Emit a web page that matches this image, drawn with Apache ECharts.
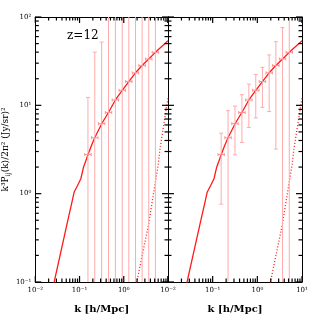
<!DOCTYPE html>
<html><head><meta charset="utf-8">
<script src="https://cdn.jsdelivr.net/npm/echarts@6/dist/echarts.min.js"></script>
<style>html,body{margin:0;padding:0;background:#fff}#c{width:319px;height:319px}</style>
</head><body><div id="c"></div><script>
// Model curve (solid)
const curveK = [0.0251, 0.0556, 0.0662, 0.0757, 0.0902, 0.107, 0.123, 0.1435, 0.1556, 0.185, 0.219, 0.324, 0.457, 0.646, 0.923, 1.30, 1.82, 2.60, 3.67, 5.19, 10];
const curveY = [0.087, 0.524, 0.773, 1.045, 1.239, 1.476, 1.995, 2.47, 2.77, 3.49, 4.27, 6.31, 8.41, 11.5, 14.8, 18.6, 23.2, 28.2, 33.5, 39.8, 53.7];
// Shot-noise curve (dotted)
const shotK = [1.905, 1.98, 3.61, 6.04, 6.59, 10];
const shotY = [0.091, 0.102, 0.44, 2.17, 3.21, 12.2];
// Binned points
const binK = [0.155, 0.221, 0.316, 0.452, 0.646, 0.923, 1.30, 1.84, 2.60, 3.67, 5.19];
const binY = [2.77, 4.3, 6.2, 8.3, 11.5, 14.8, 18.6, 23.3, 28.2, 33.5, 39.8];
// Error bars, left panel
const leftLo = [0.05, 0.05, 0.05, 0.05, 0.05, 0.05, 0.05, 0.05, 0.05, 0.05, 0.05];
const leftHi = [12.3, 40, 52, 200, 200, 200, 200, 200, 200, 200, 200];
// Error bars, right panel
const rightLo = [0.76, 0.05, 2.75, 3.8, 5.6, 7.2, 9.5, 8.5, 3.2, 0.05, 0.05];
const rightHi = [4.84, 8.7, 9.8, 13.2, 17.4, 22.4, 26.9, 37.2, 52.5, 75.9, 200];
// Major and minor tick values
const xMajor = [0.01, 0.1, 1, 10];
const yMajor = [0.1, 1, 10, 100];
const xMinor = [0.02,0.03,0.04,0.05,0.06,0.07,0.08,0.09, 0.2,0.3,0.4,0.5,0.6,0.7,0.8,0.9, 2,3,4,5,6,7,8,9];
const yMinor = [0.2,0.3,0.4,0.5,0.6,0.7,0.8,0.9, 2,3,4,5,6,7,8,9, 20,30,40,50,60,70,80,90];
const panelLabel = 'z=12';
const xName = 'k [h/Mpc]';
const yName = 'k³P{sub|ij}(k)/2π² (Jy/sr)²';

const SUP = {'-':'⁻','0':'⁰','1':'¹','2':'²','3':'³'};
function pow10Label(v){
  const e = Math.round(Math.log10(v));
  return '10' + String(e).split('').map(ch => SUP[ch]).join('');
}
const FONT = 'DejaVu Serif';
const RED = '#ff1a1a', PINK = '#ffaaaa';
const XMIN=0.01, XMAX=10, YMIN=0.1, YMAX=100;

function zip(a,b){ return a.map((v,i)=>[v,b[i]]); }

// rows: [x, y, lo, hi, kind, len]; kind 0 = bin with error bar, 1 = x tick, 2 = y tick
const MAJ = 6, MIN = 3.5;
function buildRows(lo,hi){
  const rows = binK.map((k,i)=>[k,binY[i],lo[i],hi[i],0,0]);
  xMajor.forEach(v=>rows.push([v,1,0,0,1,MAJ]));
  xMinor.forEach(v=>rows.push([v,1,0,0,1,MIN]));
  yMajor.forEach(v=>rows.push([1,v,0,0,2,MAJ]));
  yMinor.forEach(v=>rows.push([1,v,0,0,2,MIN]));
  return rows;
}
function drawItem(params, api){
  const kind = api.value(4), L = api.value(5);
  const blk = {stroke:'#000', lineWidth:1.2};
  if (kind === 1) {
    const v=api.value(0);
    const b=api.coord([v,YMIN]), t=api.coord([v,YMAX]);
    return {type:'group', children:[
      {type:'line', shape:{x1:b[0],y1:b[1],x2:b[0],y2:b[1]-L}, style:blk},
      {type:'line', shape:{x1:t[0],y1:t[1],x2:t[0],y2:t[1]+L}, style:blk}
    ]};
  }
  if (kind === 2) {
    const v=api.value(1);
    const l=api.coord([XMIN,v]), r=api.coord([XMAX,v]);
    return {type:'group', children:[
      {type:'line', shape:{x1:l[0],y1:l[1],x2:l[0]+L,y2:l[1]}, style:blk},
      {type:'line', shape:{x1:r[0],y1:r[1],x2:r[0]-L,y2:r[1]}, style:blk}
    ]};
  }
  const k=api.value(0), y=api.value(1), lo=api.value(2), hi=api.value(3);
  const p=api.coord([k,y]), pl=api.coord([k,lo]), ph=api.coord([k,hi]);
  const rect = params.coordSys;
  const top = Math.max(ph[1], rect.y), bot = Math.min(pl[1], rect.y+rect.height);
  const st={stroke:PINK, lineWidth:1};
  const cw=2, hw=3.2, hc=1.5;
  const st2={stroke:'#ff9090',lineWidth:1};
  const ch = [
    {type:'line', shape:{x1:p[0],y1:bot,x2:p[0],y2:top}, style:st},
    {type:'line', shape:{x1:p[0]-hw,y1:p[1],x2:p[0]+hw,y2:p[1]}, style:st2},
    {type:'line', shape:{x1:p[0]-hw,y1:p[1]-hc,x2:p[0]-hw,y2:p[1]+hc}, style:st2},
    {type:'line', shape:{x1:p[0]+hw,y1:p[1]-hc,x2:p[0]+hw,y2:p[1]+hc}, style:st2}
  ];
  if (ph[1] >= rect.y) ch.push({type:'line', shape:{x1:p[0]-cw,y1:ph[1],x2:p[0]+cw,y2:ph[1]}, style:st});
  if (pl[1] <= rect.y+rect.height) ch.push({type:'line', shape:{x1:p[0]-cw,y1:pl[1],x2:p[0]+cw,y2:pl[1]}, style:st});
  return {type:'group', children:ch};
}

function xAx(grid, pos, labels, hideLast){
  return {type:'log', gridIndex:grid, position:pos, min:XMIN, max:XMAX, logBase:10,
    axisLine:{show:true, lineStyle:{color:'#000', width:1}},
    axisTick:{show:false}, minorTick:{show:false}, splitLine:{show:false}, minorSplitLine:{show:false},
    axisLabel:{show:labels, margin:5, fontFamily:FONT, fontSize:7, color:'#000',
      formatter:v => (hideLast && v>=9.99) ? '' : pow10Label(v)},
    name: labels ? xName : '', nameLocation:'middle', nameGap:22,
    nameTextStyle:{fontFamily:FONT, fontSize:10, color:'#000', fontWeight:'bold'}
  };
}
function yAx(grid, pos, labels){
  return {type:'log', gridIndex:grid, position:pos, min:YMIN, max:YMAX, logBase:10,
    axisLine:{show:true, lineStyle:{color:'#000', width:1}},
    axisTick:{show:false}, minorTick:{show:false}, splitLine:{show:false}, minorSplitLine:{show:false},
    axisLabel:{show:labels, margin:4, fontFamily:FONT, fontSize:7, color:'#000', formatter:pow10Label},
    name: labels ? yName : '', nameLocation:'middle', nameGap:21,
    nameTextStyle:{fontFamily:FONT, fontSize:9, color:'#000',
      rich:{sub:{fontFamily:FONT, fontSize:6.5, color:'#000', padding:[6,0,0,0]}}}
  };
}

const chart = echarts.init(document.getElementById('c'), null, {renderer:'canvas'});
const series = [];
[[0,leftLo,leftHi],[1,rightLo,rightHi]].forEach(([g,lo,hi])=>{
  const xi = g*2, yi = g*2;
  series.push({type:'custom', xAxisIndex:xi, yAxisIndex:yi, clip:false, z:4,
    renderItem:drawItem, data:buildRows(lo,hi), silent:true});
  series.push({type:'line', xAxisIndex:xi, yAxisIndex:yi, z:3, showSymbol:false, clip:true,
    data:zip(curveK,curveY), lineStyle:{color:RED, width:1.3}, silent:true});
  series.push({type:'line', xAxisIndex:xi, yAxisIndex:yi, z:3, showSymbol:false, clip:true,
    data:zip(shotK,shotY), lineStyle:{color:RED, width:1.3, type:[1,2]}, silent:true});
});

chart.setOption({
  animation:false,
  backgroundColor:'#fff',
  grid:[{left:34, top:17, width:134, height:267},{left:168, top:17, width:134, height:267}],
  xAxis:[xAx(0,'bottom',true,true), xAx(0,'top',false,false), xAx(1,'bottom',true,false), xAx(1,'top',false,false)],
  yAxis:[yAx(0,'left',true), yAx(0,'right',false), yAx(1,'left',false), yAx(1,'right',false)],
  graphic:[{type:'text', left:67, top:30, style:{text:panelLabel, font:'12px "DejaVu Serif"', fill:'#000'}}],
  series:series
});
</script></body></html>
